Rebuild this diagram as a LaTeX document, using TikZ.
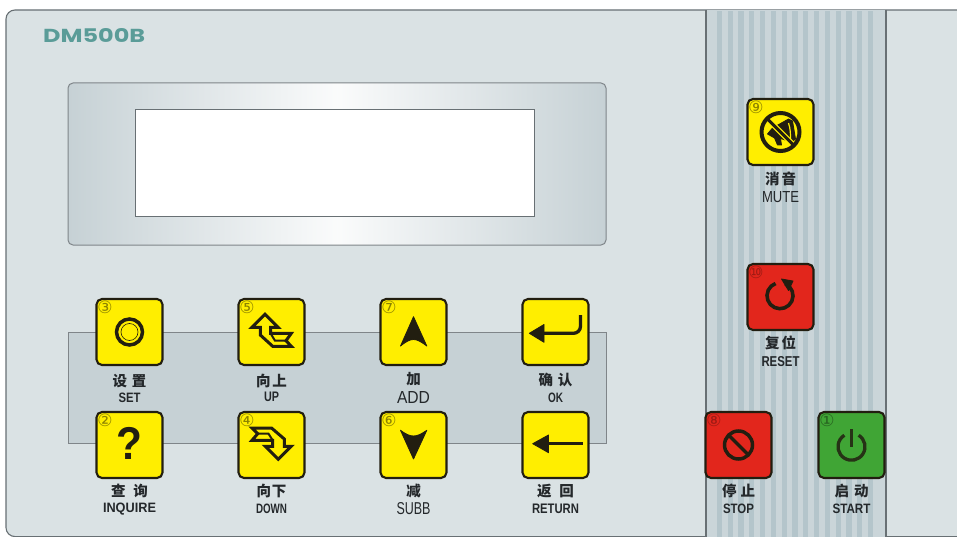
\documentclass[tikz,border=0pt]{standalone}
\usepackage{fontspec}
\setmainfont{Liberation Sans}
\newfontfamily\cjkfont{Noto Sans CJK SC}
\newfontfamily\symfont{DejaVu Sans}
\newfontfamily\logofont{Poppins}
\usetikzlibrary{calc}
\definecolor{panelc}{HTML}{DAE2E4}
\definecolor{edgec}{HTML}{687074}
\definecolor{bandc}{HTML}{C6D1D5}
\definecolor{stripec}{HTML}{B4C5CB}
\definecolor{stripebase}{HTML}{CAD5D9}
\definecolor{inkc}{HTML}{221E10}
\definecolor{yelc}{HTML}{FFEE00}
\definecolor{redc}{HTML}{E2261C}
\definecolor{grnc}{HTML}{40A535}
\definecolor{labc}{HTML}{24282B}
\definecolor{logoc}{HTML}{5A9C98}
\tikzset{
  keybox/.style={draw=inkc,line width=2.1pt,rounded corners=5.5pt,minimum width=66pt,minimum height=66pt,inner sep=0pt,outer sep=0pt},
  numtag/.style={inner sep=0pt,font=\symfont\fontsize{17}{17}\selectfont},
  cnlabel/.style={inner sep=0pt,text=labc,font=\cjkfont\bfseries\fontsize{14.5}{15}\selectfont},
  enlabel/.style={inner sep=0pt,text=labc},
  glyph/.style={fill=inkc,draw=inkc,line width=.8pt,line join=round},
  ring/.style={draw=inkc,line width=3.5pt},
  hollow/.style={draw=inkc,line width=3pt,fill=yelc,line join=miter},
}
\newcommand{\keybtn}[7]{% name, cx, cy, fill, tag colour, tag, icon
  \node[keybox,fill=#4] (#1) at (#2,#3) {};
  \node[numtag,text=#5] (#1tag) at ($(#2,#3)+(-24.5,-25)$) {#6};
  \begin{scope}[shift={(#2,#3)}] #7 \end{scope}
}
\newcommand{\keylab}[8]{% name, cx, cn y, cn, en y, en width, en height, text
  \node[cnlabel] (#1cn) at (#2,#3) {#4};
  \node[enlabel] (#1en) at (#2,#5) {\resizebox{#6pt}{#7}{#8}};
}
\newcommand{\gap}[1]{\hspace{#1pt}}
\begin{document}
\begin{tikzpicture}[x=1pt,y=1pt,yscale=-1]
\useasboundingbox (0,0) rectangle (957,537);
\fill[white] (0,0) rectangle (957,537);
\begin{scope}
\clip (0,0) rectangle (957,537);
\draw[fill=panelc,draw=edgec,line width=1.1pt,rounded corners=9pt] (6,10) rectangle (975,536.6);
\end{scope}
\node[inner sep=0pt,anchor=west,text=logoc] (logo) at (43,36) {\resizebox{102pt}{14pt}{\logofont\bfseries DM500B}};
% display
\draw[draw=edgec!85,line width=1pt,rounded corners=5pt,left color=bandc,right color=bandc,middle color=white!92!bandc] (68,83) rectangle (606,245);
\draw[draw=edgec,line width=1pt,fill=white] (135,110) rectangle (534,217);
% band
\draw[draw=edgec!85,line width=1pt,fill=bandc] (68,332) rectangle (606,443);
% ribbed strip
\fill[stripebase] (706,10) rectangle (886,537);
\foreach \i in {0,...,14} \fill[stripec] ({719.3+10.8*\i-2.6},10.6) rectangle ({719.3+10.8*\i+2.6},537);
\draw[draw=edgec,line width=1.2pt] (706,10) -- (706,537);
\draw[draw=edgec,line width=1.2pt] (886,10) -- (886,537);
% keys, top row
\keybtn{set}{129.5}{332}{yelc}{yelc!55!black}{③}{
  \draw[ring] (0,0) circle (13);
  \draw[draw=inkc,line width=.6pt] (0,0) circle (8.5);
}
\keylab{set}{129.5}{381}{设\gap{5}置}{398}{22}{9.5pt}{\bfseries SET}
\keybtn{up}{271.5}{332}{yelc}{yelc!55!black}{⑤}{
  \draw[hollow] (-6.5,-17.7) -- (6.5,-4.7) -- (-1,-4.7) -- (-1,1.3) -- (19.8,1.3) -- (14.5,8.7) -- (19.8,14.3) -- (1.2,14.3) -- (-11.2,3) -- (-11.2,-4.7) -- (-19.5,-4.7) -- cycle;
  \draw[draw=inkc,line width=2pt] (-1,1.3) -- (3.5,8.7) -- (14.5,8.7);
}
\keylab{up}{271.5}{381}{向\gap{2}上}{397}{15}{9.5pt}{\bfseries UP}
\keybtn{add}{413.5}{332}{yelc}{yelc!55!black}{⑦}{
  \fill[glyph] (0,-15.3) -- (13.3,14) .. controls (8,10) and (4,7.5) .. (0,7.5) .. controls (-4,7.5) and (-8,10) .. (-13,14) -- cycle;
}
\keylab{add}{413.5}{379}{加}{397}{33}{12pt}{ADD}
\keybtn{ok}{555.5}{332}{yelc}{yelc!55!black}{}{
  \fill[glyph] (-26.2,1.3) -- (-11.5,-7.5) -- (-11.5,10.3) -- cycle;
  \draw[draw=inkc,line width=3.3pt] (-12,1.3) -- (18,1.3) arc[start angle=90,end angle=0,radius=7] -- (25,-17);
}
\keylab{ok}{555.5}{380}{确\gap{5}认}{398}{15}{9.5pt}{\bfseries OK}
% keys, bottom row
\keybtn{inq}{129.5}{445}{yelc}{yelc!55!black}{②}{
  \node[inner sep=0pt,text=inkc] (inqmark) at (0,-2) {\scalebox{.92}[1]{\fontsize{46}{46}\selectfont\bfseries ?}};
}
\keylab{inq}{129.5}{491}{查\gap{8}询}{509}{53}{9.5pt}{\bfseries INQUIRE}
\keybtn{down}{271.5}{445}{yelc}{yelc!55!black}{④}{
  \draw[hollow] (-19.5,-17) -- (-13.8,-11.3) -- (-19.5,-4.7) -- (1.2,-4.7) -- (1.2,1.3) -- (-6.2,1.3) -- (6.8,14.3) -- (19.8,1.3) -- (12.8,1.3) -- (12.8,-6) -- (0,-17) -- cycle;
  \draw[draw=inkc,line width=2pt] (-13.8,-11.3) -- (-3,-11.3) -- (1.2,-4.7);
}
\keylab{down}{271.5}{491}{向\gap{1}下}{509}{31}{9.5pt}{\bfseries DOWN}
\keybtn{subb}{413.5}{445}{yelc}{yelc!55!black}{⑥}{
  \fill[glyph] (0,14) -- (-13,-14.7) .. controls (-8,-11) and (-4,-9) .. (0,-9) .. controls (4,-9) and (8,-11) .. (13.3,-14.7) -- cycle;
}
\keylab{subb}{413.5}{491}{减}{509}{34}{12pt}{SUBB}
\keybtn{ret}{555.5}{445}{yelc}{yelc!55!black}{}{
  \fill[glyph] (-22.8,-1.3) -- (-7,-10) -- (-7,7.7) -- cycle;
  \draw[draw=inkc,line width=3.3pt] (-8,-1.3) -- (27,-1.3);
}
\keylab{ret}{555.5}{491}{返\gap{8}回}{509}{47}{9.5pt}{\bfseries RETURN}
% right-hand keys
\keybtn{mute}{780.5}{132}{yelc}{yelc!55!black}{⑨}{
  \fill[glyph] (-13,2) -- (-8,-4) -- (8,-13) -- (12,-11) -- (15,7) -- (11,10) -- (0,6.5) -- (1,13) -- (-3,13) -- (-6,6) -- cycle;
  \draw[draw=yelc,line width=1.2pt] (8,-9) .. controls (10,-3) and (10,2) .. (10,7);
  \draw[draw=yelc,line width=5.5pt] (-13,-13) -- (13,13);
  \draw[draw=inkc,line width=3pt] (-14,-14) -- (14,14);
  \draw[draw=inkc,line width=4pt] (0,0) circle (19);
}
\keylab{mute}{780.5}{179}{消\gap{2}音}{197}{37}{11pt}{MUTE}
\keybtn{reset}{780.5}{297}{redc}{redc!70!black}{⑩}{
  \draw[draw=inkc,line width=3.6pt] (-0.5,-1.3) ++(-65:13) arc[start angle=-65,end angle=250,radius=13];
  \fill[glyph] (1,-18) -- (12.5,-16) -- (8,-6.5) -- cycle;
}
\keylab{reset}{780.5}{343}{复\gap{2}位}{362}{38}{10pt}{\bfseries RESET}
\keybtn{stop}{738.5}{445}{redc}{redc!70!black}{⑧}{
  \draw[ring] (0,0) circle (14);
  \draw[ring] (-10,-10) -- (10,10);
}
\keylab{stop}{738.5}{491}{停\gap{4}止}{509}{31}{9.5pt}{\bfseries STOP}
\keybtn{start}{851.5}{445}{grnc}{grnc!60!black}{①}{
  \draw[draw=inkc!85!grnc,line width=3.3pt] (0,1.7) ++(-58:13.5) arc[start angle=-58,end angle=238,radius=13.5];
  \draw[draw=inkc!85!grnc,line width=3.3pt] (0,-15.7) -- (0,1.5);
}
\keylab{start}{851.5}{491}{启\gap{5}动}{509}{38}{9.5pt}{\bfseries START}
\end{tikzpicture}
\end{document}
